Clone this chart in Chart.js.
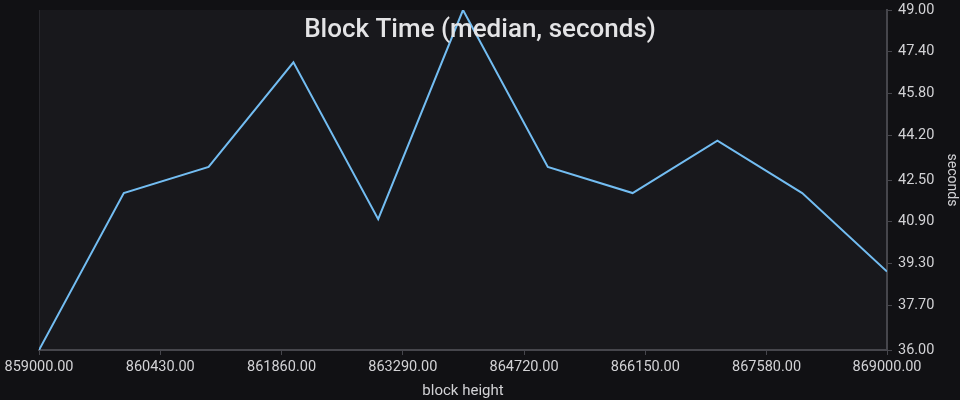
<!DOCTYPE html>
<html>
<head>
<meta charset="utf-8">
<script src="https://cdn.jsdelivr.net/npm/chart.js@4/dist/chart.umd.min.js"></script>
<style>
  html, body { margin: 0; padding: 0; background: #111114; }
  #wrap { width: 960px; height: 400px; position: relative; }
</style>
</head>
<body>
<div id="wrap"><canvas id="blockChart"></canvas></div>
<script>
// block heights and median block time (seconds)
const heights = [859000, 860000, 861000, 862000, 863000, 864000, 865000, 866000, 867000, 868000, 869000];
const blockTimes = [36, 42, 43, 47, 41, 49, 43, 42, 44, 42, 39];

const xTicks = [859000, 860430, 861860, 863290, 864720, 866150, 867580, 869000];
const yTicks = [36.00, 37.70, 39.30, 40.90, 42.50, 44.20, 45.80, 47.40, 49.00];

const txt = '#d2d2d5';
const axisCol = '#46464c';

// plot area background + title
const panelPlugin = {
  id: 'panel',
  beforeDraw(chart) {
    const { ctx, chartArea: a } = chart;
    ctx.save();
    ctx.fillStyle = '#18181c';
    ctx.fillRect(a.left, a.top, a.right - a.left, a.bottom - a.top);
    ctx.strokeStyle = '#28282d';
    ctx.lineWidth = 1;
    ctx.beginPath();
    ctx.moveTo(a.left + 0.5, a.top);
    ctx.lineTo(a.left + 0.5, a.bottom);
    ctx.stroke();
    ctx.restore();
  },
  afterDatasetsDraw(chart) {
    const { ctx } = chart;
    ctx.save();
    ctx.fillStyle = '#e4e4e6';
    ctx.font = '500 26px Roboto';
    ctx.textAlign = 'center';
    ctx.textBaseline = 'middle';
    ctx.fillText('Block Time (median, seconds)', 480, 30);
    ctx.restore();
  }
};

new Chart(document.getElementById('blockChart').getContext('2d'), {
  type: 'line',
  data: {
    datasets: [{
      data: heights.map((h, i) => ({ x: h, y: blockTimes[i] })),
      borderColor: '#73bdf2',
      borderWidth: 2,
      pointRadius: 0,
      tension: 0,
      fill: false
    }]
  },
  options: {
    responsive: true,
    maintainAspectRatio: false,
    animation: false,
    layout: { padding: { left: 39, top: 10, right: 0, bottom: 0 } },
    plugins: {
      legend: { display: false },
      tooltip: { enabled: false }
    },
    scales: {
      x: {
        type: 'linear',
        min: 859000,
        max: 869000,
        afterBuildTicks: s => { s.ticks = xTicks.map(v => ({ value: v })); },
        afterFit: s => { s.height = 50; s.paddingLeft = 0; s.paddingRight = 0; },
        ticks: {
          color: txt,
          font: { family: 'Roboto', size: 14.5 },
          padding: 4,
          maxRotation: 0,
          autoSkip: false,
          callback: v => v.toFixed(2)
        },
        grid: { drawOnChartArea: false, drawTicks: true, tickLength: 5, color: axisCol },
        border: { color: axisCol, width: 2 },
        title: {
          display: true,
          text: 'block height',
          color: txt,
          font: { family: 'Roboto', size: 15 },
          padding: { top: 2, bottom: 0 }
        }
      },
      y: {
        position: 'right',
        min: 36,
        max: 49,
        afterBuildTicks: s => { s.ticks = yTicks.map(v => ({ value: v })); },
        afterFit: s => { s.width = 73; s.paddingTop = 0; s.paddingBottom = 0; },
        ticks: {
          color: txt,
          font: { family: 'Roboto', size: 14.5 },
          padding: 6,
          autoSkip: false,
          callback: v => v.toFixed(2)
        },
        grid: { drawOnChartArea: false, drawTicks: true, tickLength: 5, color: axisCol },
        border: { color: axisCol, width: 2 },
        title: {
          display: true,
          text: 'seconds',
          color: txt,
          font: { family: 'Roboto', size: 14 },
          padding: { top: 0, bottom: 0 }
        }
      }
    }
  },
  plugins: [panelPlugin]
});
</script>
</body>
</html>
